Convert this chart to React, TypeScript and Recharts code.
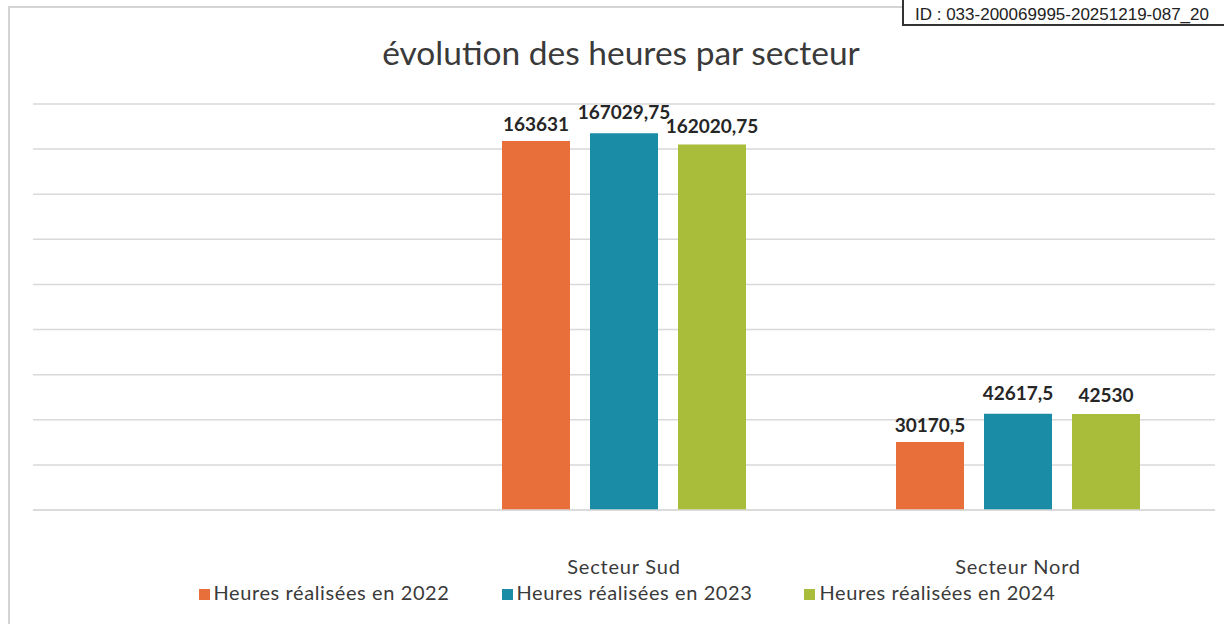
import React from 'react';
import { BarChart, Bar, XAxis, YAxis, CartesianGrid, Legend, LabelList } from 'recharts';

const categories = ['', 'Secteur Sud', 'Secteur Nord'];
const heures2022: (number | null)[] = [null, 163631, 30170.5];
const heures2023: (number | null)[] = [null, 167029.75, 42617.5];
const heures2024: (number | null)[] = [null, 162020.75, 42530];
const yTicks = [0, 20000, 40000, 60000, 80000, 100000, 120000, 140000, 160000, 180000];
const seriesNames = ['Heures réalisées en 2022', 'Heures réalisées en 2023', 'Heures réalisées en 2024'];
const title = 'évolution des heures par secteur';
const stampText = 'ID : 033-200069995-20251219-087_20';

const data = categories.map((c, i) => ({
  name: c,
  h2022: heures2022[i],
  h2023: heures2023[i],
  h2024: heures2024[i],
}));

const COLORS = ['#E86E3A', '#1A8CA6', '#A9BD3B'];
const FONT = 'Lato, "Open Sans", sans-serif';

const fmt = (v: any) => (v === null || v === undefined ? '' : String(v).replace('.', ','));

export default function App() {
  return (
    <div style={{ position: 'absolute', left: 0, top: 0, width: 1224, height: 624, overflow: 'hidden', background: '#fff', fontFamily: FONT }}>
      <div style={{ position: 'absolute', left: 8, top: 6, width: 1300, height: 700, border: '2px solid #d4d4d4', boxSizing: 'border-box' }} />
      <div style={{ position: 'absolute', left: 0, top: 32, width: 1242, textAlign: 'center', fontSize: 33.5, color: '#3a3a3a', fontFamily: FONT, lineHeight: '40px' }}>
        {title}
      </div>
      <div style={{ position: 'absolute', left: 902, top: -20, width: 400, height: 46, border: '2px solid #333', boxSizing: 'border-box', background: '#fff' }}>
        <div style={{ position: 'absolute', left: 11, top: 23, fontFamily: '"Liberation Sans", Arial, sans-serif', fontSize: 17, color: '#222', whiteSpace: 'nowrap', lineHeight: '19px' }}>
          {stampText}
        </div>
      </div>
      <div style={{ position: 'absolute', left: 0, top: 0 }}>
        <BarChart width={1224} height={624} data={data} margin={{ top: 104, right: 9, left: 33, bottom: 16 }} barSize={68} barGap={20}>
          <CartesianGrid vertical={false} stroke="#d9d9d9" strokeWidth={1.5} />
          <XAxis dataKey="name" axisLine={{ stroke: '#d9d9d9', strokeWidth: 1.5 }} tickLine={false} height={70} tickMargin={44}
            tick={{ fontSize: 20, fill: '#3a3a3a', fontFamily: FONT, letterSpacing: 0.8 }} interval={0} />
          <YAxis hide domain={[0, 180000]} ticks={yTicks} />
          <Legend verticalAlign="bottom" align="center" height={28} iconType="square" iconSize={11}
            wrapperStyle={{ fontFamily: FONT, fontSize: 20, letterSpacing: 0.6, paddingLeft: 16, boxSizing: 'border-box' }}
            formatter={(value: any, _e: any, index: number) => (
              <span style={{ color: '#3a3a3a', marginRight: index < 2 ? 42 : 0 }}>{value}</span>
            )} />
          <Bar dataKey="h2022" name={seriesNames[0]} fill={COLORS[0]} isAnimationActive={false}>
            <LabelList dataKey="h2022" position="top" offset={10} formatter={fmt} style={{ fontSize: 19, fontWeight: 700, fill: '#262626', fontFamily: FONT }} />
          </Bar>
          <Bar dataKey="h2023" name={seriesNames[1]} fill={COLORS[1]} isAnimationActive={false}>
            <LabelList dataKey="h2023" position="top" offset={14} formatter={fmt} style={{ fontSize: 19, fontWeight: 700, fill: '#262626', fontFamily: FONT }} />
          </Bar>
          <Bar dataKey="h2024" name={seriesNames[2]} fill={COLORS[2]} isAnimationActive={false}>
            <LabelList dataKey="h2024" position="top" offset={12} formatter={fmt} style={{ fontSize: 19, fontWeight: 700, fill: '#262626', fontFamily: FONT }} />
          </Bar>
        </BarChart>
      </div>
    </div>
  );
}
